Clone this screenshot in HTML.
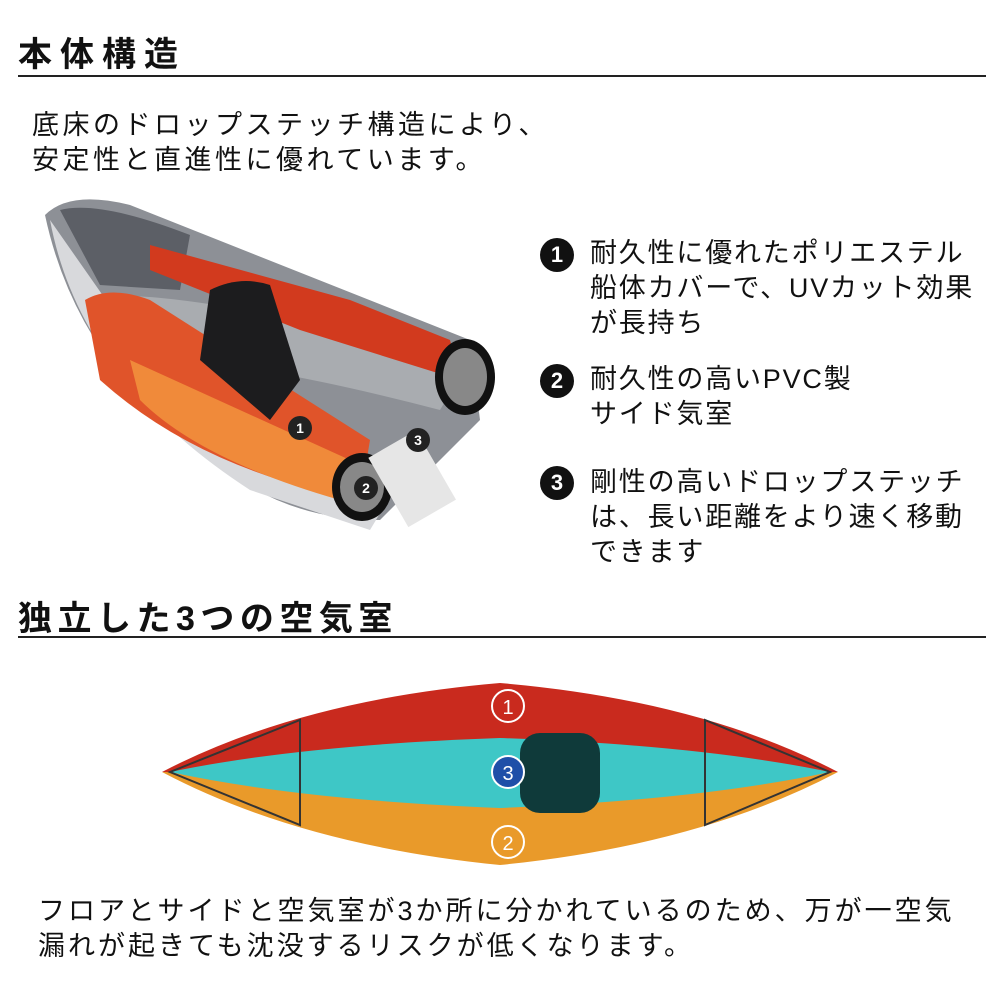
<!DOCTYPE html>
<html><head><meta charset="utf-8">
<style>
*{margin:0;padding:0;box-sizing:border-box}
body{width:1000px;height:1000px;background:#fff;position:relative;overflow:hidden;font-family:"Liberation Sans","Noto Sans CJK JP",sans-serif;color:#111}
.t{position:absolute;white-space:nowrap}
.h{font-weight:bold;font-size:34px;letter-spacing:7px}
.line{position:absolute;left:18px;width:968px;height:2px;background:#222}
.p{font-size:27px;line-height:35px;letter-spacing:2.5px}
.l{letter-spacing:1.8px}
.n{position:absolute;width:34px;height:34px;border-radius:50%;background:#111;color:#fff;font-weight:bold;font-size:22px;text-align:center;line-height:34px}
</style></head><body>
<div class="t h" style="left:18px;top:27px;letter-spacing:8px">本体構造</div>
<div class="line" style="top:75px"></div>
<div class="t p" style="left:32px;top:108px;letter-spacing:3.5px">底床のドロップステッチ構造により、<br>安定性と直進性に優れています。</div>

<svg style="position:absolute;left:0;top:0" width="1000" height="1000">
 <path d="M45,215 Q70,190 130,205 L470,340 L480,420 L380,520 Q300,520 240,480 Q80,380 45,215Z" fill="#8d9096"/>
 <path d="M50,220 Q80,380 250,490 L370,530 L400,480 Q250,440 120,320 Z" fill="#d8d9dc"/>
 <path d="M60,210 Q100,200 190,235 L180,290 L100,285 Z" fill="#5c5f66"/>
 <path d="M90,300 Q150,280 470,360 L440,410 Q250,360 100,350Z" fill="#a9acb0"/>
 <path d="M150,245 L350,300 L450,340 L460,380 L300,330 L150,270Z" fill="#d23a1e"/>
 <path d="M85,300 Q110,285 150,300 L370,440 L360,500 Q200,470 100,380Z" fill="#e0542a"/>
 <path d="M130,360 L350,460 L340,500 Q200,460 140,400Z" fill="#f08a3a"/>
 <path d="M210,290 Q240,275 270,285 L300,380 L270,420 L200,360Z" fill="#1c1c1e"/>
 <ellipse cx="465" cy="377" rx="30" ry="38" fill="#111"/>
 <ellipse cx="465" cy="377" rx="22" ry="29" fill="#888"/>
 <ellipse cx="362" cy="487" rx="30" ry="34" fill="#111"/>
 <ellipse cx="362" cy="487" rx="22" ry="25" fill="#888"/>
 <rect x="385" y="440" width="55" height="80" fill="#e6e6e6" transform="rotate(-30 410 480)"/>
 <circle cx="300" cy="428" r="12" fill="#222"/><text x="300" y="433" fill="#fff" font-size="14" font-weight="bold" text-anchor="middle">1</text>
 <circle cx="418" cy="440" r="12" fill="#222"/><text x="418" y="445" fill="#fff" font-size="14" font-weight="bold" text-anchor="middle">3</text>
 <circle cx="366" cy="488" r="12" fill="#222"/><text x="366" y="493" fill="#fff" font-size="14" font-weight="bold" text-anchor="middle">2</text>

 <path d="M162,772 Q300,700 500,683 Q700,700 838,772 Z" fill="#c92a1e"/>
 <path d="M162,772 Q300,845 500,865 Q700,845 838,772 Z" fill="#e99a2a"/>
 <path d="M170,772 Q300,745 500,738 Q700,745 830,772 Q700,800 500,808 Q300,800 170,772Z" fill="#3ec7c6"/>
 <rect x="520" y="733" width="80" height="80" rx="20" fill="#0f3a3a"/>
 <path d="M170,772 L300,720 L300,825Z" fill="none" stroke="#333" stroke-width="2"/>
 <path d="M830,772 L705,720 L705,825Z" fill="none" stroke="#333" stroke-width="2"/>
 <circle cx="508" cy="706" r="16" fill="none" stroke="#fff" stroke-width="2"/><text x="508" y="714" fill="#fff" font-size="20" text-anchor="middle">1</text>
 <circle cx="508" cy="772" r="16" fill="#1f4fa8" stroke="#fff" stroke-width="2"/><text x="508" y="780" fill="#fff" font-size="20" text-anchor="middle">3</text>
 <circle cx="508" cy="842" r="16" fill="none" stroke="#fff" stroke-width="2"/><text x="508" y="850" fill="#fff" font-size="20" text-anchor="middle">2</text>
</svg>

<div class="n" style="left:540px;top:238px">1</div>
<div class="t p l" style="left:590px;top:236px">耐久性に優れたポリエステル<br>船体カバーで、UVカット効果<br>が長持ち</div>
<div class="n" style="left:540px;top:364px">2</div>
<div class="t p l" style="left:590px;top:362px">耐久性の高いPVC製<br>サイド気室</div>
<div class="n" style="left:540px;top:466px">3</div>
<div class="t p l" style="left:590px;top:465px">剛性の高いドロップステッチ<br>は、長い距離をより速く移動<br>できます</div>

<div class="t h" style="left:18px;top:591px;letter-spacing:5.5px">独立した3つの空気室</div>
<div class="line" style="top:636px"></div>

<div class="t p" style="left:38px;top:894px;letter-spacing:3px">フロアとサイドと空気室が3か所に分かれているのため、万が一空気<br>漏れが起きても沈没するリスクが低くなります。</div>
</body></html>
